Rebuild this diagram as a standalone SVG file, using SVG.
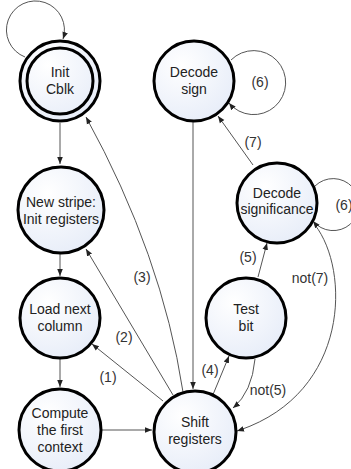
<svg xmlns="http://www.w3.org/2000/svg" width="351" height="469" viewBox="0 0 351 469">
<defs>
<radialGradient id="g" cx="0.35" cy="0.3" r="0.8">
<stop offset="0" stop-color="#ffffff"/>
<stop offset="1" stop-color="#e6ecf8"/>
</radialGradient>
<marker id="a" markerWidth="8" markerHeight="8" refX="7" refY="4" orient="auto" markerUnits="userSpaceOnUse">
<path d="M0,1.2 L7,4 L0,6.8 Z" fill="#222"/>
</marker>
<style>
.n{fill:url(#g);stroke:#000;stroke-width:3}
.i{fill:none;stroke:#000;stroke-width:3}
.t{font-family:"Liberation Sans",Arial,sans-serif;font-size:14px;fill:#222;text-anchor:middle}
.c{fill:none;stroke:#555;stroke-width:1;marker-end:url(#a)}
.p{fill:none;stroke:#555;stroke-width:1}
.l{font-family:"Liberation Sans",Arial,sans-serif;font-size:14px;fill:#333;text-anchor:middle}
</style>
</defs>
<rect width="351" height="469" fill="#fff"/>
<g id="connectors">
<path class="c" d="M25,57 A29,29 0 1 1 63,39"/>
<path class="c" d="M60,123 L60,164"/>
<path class="c" d="M60,254 L60,276"/>
<path class="c" d="M60,359 L60,387"/>
<path class="c" d="M102,430 L152,430"/>
<path class="c" d="M163,401 L92,344"/>
<path class="c" d="M173,395 L86,249"/>
<path class="c" d="M183,392 Q162,255 86,117"/>
<path class="c" d="M193,122 L193,389"/>
<path class="c" d="M212,397 L229,356"/>
<path class="c" d="M258,277 L267,243"/>
<path class="c" d="M255,359 Q252,392 233,408"/>
<path class="c" d="M253,165 L218,116"/>
<path class="p" d="M315,225 C350,270 350,392 240,430"/>
<path class="c" d="M240,430 L237,431"/>
<path class="c" d="M231,60 A32,32 0 1 1 229,103"/>
<path class="c" d="M315,186 A26,26 0 1 1 313,221"/>
<text class="l" x="108" y="382">(1)</text>
<text class="l" x="124" y="342">(2)</text>
<text class="l" x="142" y="282">(3)</text>
<text class="l" x="210" y="375">(4)</text>
<text class="l" x="248" y="262">(5)</text>
<text class="l" x="260" y="87">(6)</text>
<text class="l" x="344" y="210">(6)</text>
<text class="l" x="253" y="147">(7)</text>
<text class="l" x="268" y="395">not(5)</text>
<text class="l" x="310" y="283">not(7)</text>
</g>
<g id="init">
<circle class="n" cx="60" cy="81" r="40"/>
<circle class="i" cx="60" cy="81" r="33"/>
<text class="t" x="60" y="77">Init</text>
<text class="t" x="60" y="94">Cblk</text>
</g>
<g id="decsign">
<circle class="n" cx="194" cy="81" r="40"/>
<text class="t" x="194" y="77">Decode</text>
<text class="t" x="194" y="94">sign</text>
</g>
<g id="newstripe">
<circle class="n" cx="61" cy="210" r="43"/>
<text class="t" x="61" y="207">New stripe:</text>
<text class="t" x="61" y="224">Init registers</text>
</g>
<g id="decsig">
<circle class="n" cx="277" cy="203" r="40"/>
<text class="t" x="277" y="198">Decode</text>
<text class="t" x="277" y="214">significance</text>
</g>
<g id="load">
<circle class="n" cx="60" cy="318" r="40"/>
<text class="t" x="60" y="314">Load next</text>
<text class="t" x="60" y="331">column</text>
</g>
<g id="testbit">
<circle class="n" cx="246" cy="318" r="40"/>
<text class="t" x="246" y="314">Test</text>
<text class="t" x="246" y="331">bit</text>
</g>
<g id="compute">
<circle class="n" cx="60" cy="430" r="41"/>
<text class="t" x="60" y="418">Compute</text>
<text class="t" x="60" y="435">the first</text>
<text class="t" x="60" y="452">context</text>
</g>
<g id="shift">
<circle class="n" cx="195" cy="432" r="41"/>
<text class="t" x="195" y="427">Shift</text>
<text class="t" x="195" y="444">registers</text>
</g>
</svg>
